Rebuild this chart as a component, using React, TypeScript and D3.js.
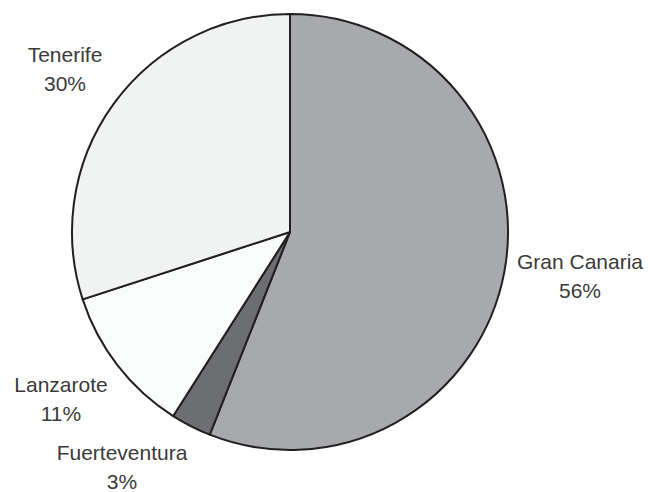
import React from "react";
import * as d3 from "d3";

// Share of the total by island
const islands = ["Gran Canaria", "Fuerteventura", "Lanzarote", "Tenerife"];
const shares = [56, 3, 11, 30];
const fills = ["#a7a9ac", "#6d6e71", "#fafbfb", "#f1f2f2"];

// Label anchors (centre x, first baseline) for each island name
const labelAnchors: Record<string, [number, number]> = {
  "Gran Canaria": [580, 269],
  Fuerteventura: [122, 460],
  Lanzarote: [61, 392],
  Tenerife: [65, 62],
};

const WIDTH = 648;
const HEIGHT = 492;
const CX = 290;
const CY = 232;
const RADIUS = 218;

export default function App() {
  const data = islands.map((name, i) => ({ name, value: shares[i], fill: fills[i] }));

  const pie = d3
    .pie<{ name: string; value: number; fill: string }>()
    .value((d) => d.value)
    .sort(null)
    .startAngle(0)
    .endAngle(2 * Math.PI);

  const arc = d3
    .arc<d3.PieArcDatum<{ name: string; value: number; fill: string }>>()
    .innerRadius(0)
    .outerRadius(RADIUS);

  const arcs = pie(data);
  const fmt = (v: number) => `${d3.format("d")(v)}%`;

  return (
    <svg
      width={WIDTH}
      height={HEIGHT}
      style={{ position: "absolute", left: 0, top: 0, background: "#ffffff" }}
      fontFamily="'Liberation Sans', Arial, Helvetica, sans-serif"
    >
      <rect width={WIDTH} height={HEIGHT} fill="#ffffff" />
      <g transform={`translate(${CX},${CY})`}>
        {arcs.map((a) => (
          <path
            key={a.data.name}
            d={arc(a) ?? ""}
            fill={a.data.fill}
            stroke="#231f20"
            strokeWidth={2}
            strokeLinejoin="round"
          />
        ))}
      </g>
      {arcs.map((a) => {
        const [x, y] = labelAnchors[a.data.name];
        return (
          <text
            key={`label-${a.data.name}`}
            x={x}
            y={y}
            textAnchor="middle"
            fontSize={21}
            fill="#3a3a3a"
          >
            <tspan x={x}>{a.data.name}</tspan>
            <tspan x={x} dy={29}>
              {fmt(a.data.value)}
            </tspan>
          </text>
        );
      })}
    </svg>
  );
}
